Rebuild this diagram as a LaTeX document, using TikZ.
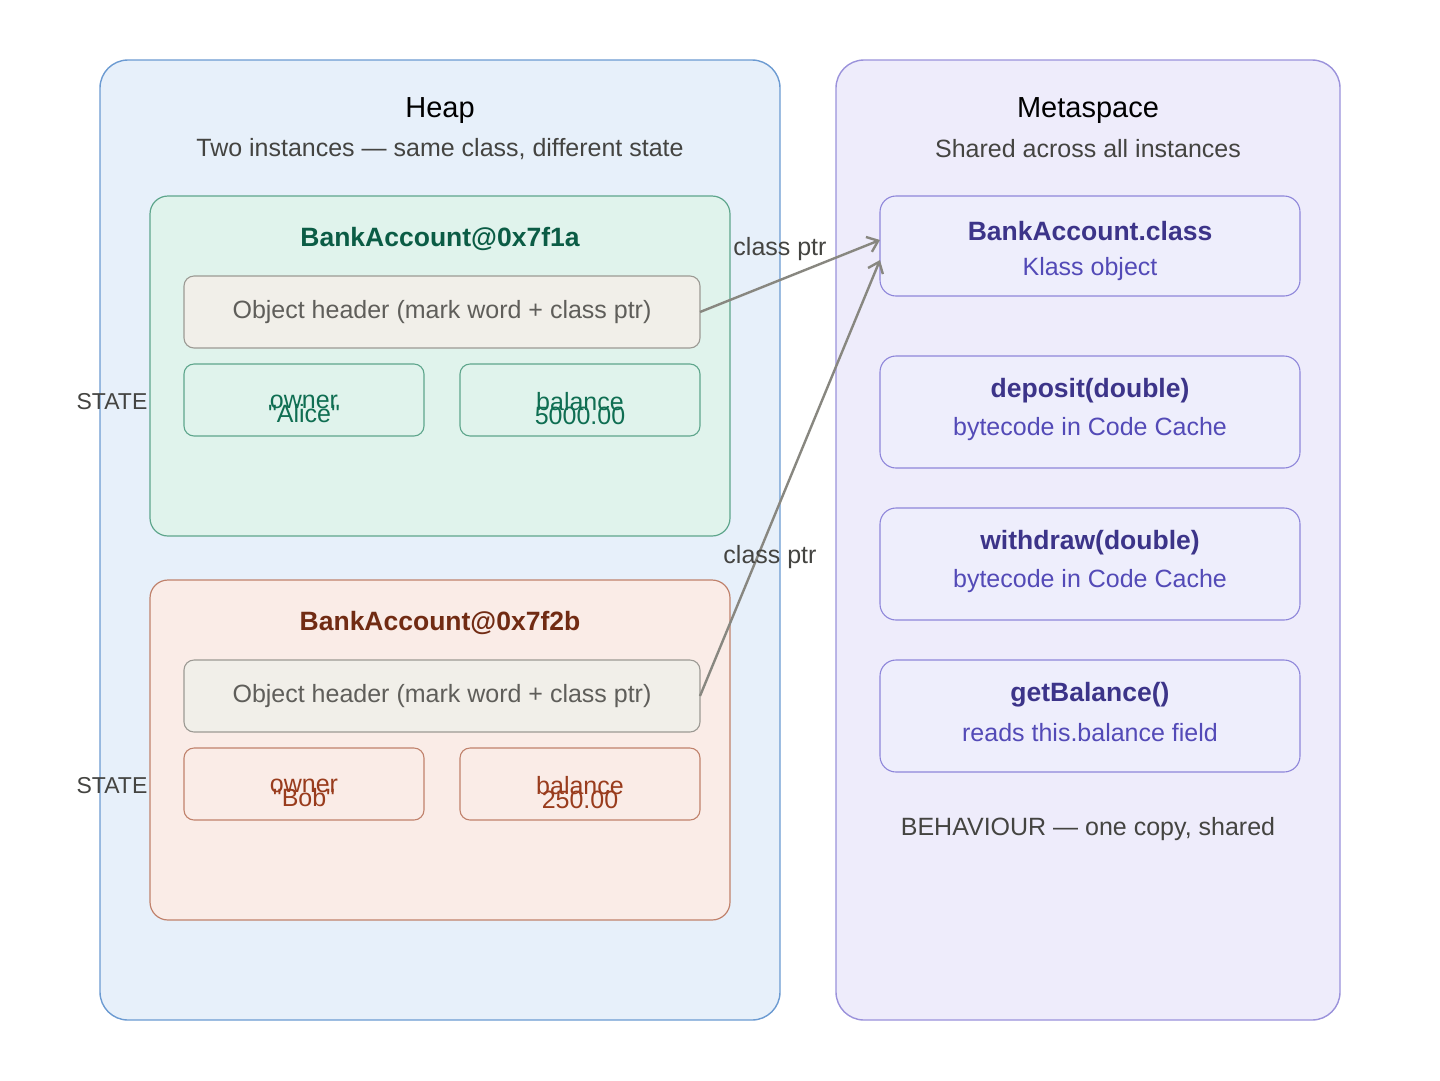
\documentclass[tikz,border=0pt]{standalone}
\usepackage{fontspec}
\setmainfont{Liberation Sans}[Ligatures=TeXOff]
\usetikzlibrary{arrows.meta}
\definecolor{heapfill}{HTML}{E7F0FA}
\definecolor{heapdraw}{HTML}{6C9BD2}
\definecolor{metafill}{HTML}{EEECFB}
\definecolor{metadraw}{HTML}{9B92DB}
\definecolor{gfill}{HTML}{E0F3EC}
\definecolor{gdraw}{HTML}{5EA68C}
\definecolor{gtitle}{HTML}{0B5C45}
\definecolor{gtext}{HTML}{0F6E52}
\definecolor{rfill}{HTML}{FAECE7}
\definecolor{rdraw}{HTML}{C0826C}
\definecolor{rtitle}{HTML}{712B13}
\definecolor{rtext}{HTML}{993C1D}
\definecolor{hfill}{HTML}{F1EFE9}
\definecolor{hdraw}{HTML}{9C9A94}
\definecolor{htext}{HTML}{5F5E5A}
\definecolor{mbfill}{HTML}{EEEEFC}
\definecolor{mbdraw}{HTML}{8E86DA}
\definecolor{mtitle}{HTML}{3C3489}
\definecolor{msub}{HTML}{534AB7}
\definecolor{lbl}{HTML}{444441}
\definecolor{arr}{HTML}{888780}
\newcommand{\tightlns}{\lineskiplimit=-100pt\relax\lineskip=0pt\relax}
\begin{document}
\begin{tikzpicture}[x=1pt,y=-1pt,
  box/.style={rectangle,inner sep=0pt,outer sep=0pt},
  region/.style={box,rounded corners=28pt,line width=1.4pt},
  objbox/.style={box,rounded corners=18pt,line width=1.2pt},
  fieldbox/.style={box,rounded corners=10pt,line width=1.1pt,minimum width=240pt,minimum height=72pt},
  hdrbox/.style={box,rounded corners=10pt,line width=1.1pt,fill=hfill,draw=hdraw,minimum width=516pt,minimum height=72pt,text=htext,font=\fontsize{25}{29}\selectfont},
  methbox/.style={box,rounded corners=16pt,line width=1.1pt,fill=mbfill,draw=mbdraw,minimum width=420pt},
  bigtitle/.style={font=\fontsize{29}{33}\selectfont,text=black},
  subtitle/.style={font=\fontsize{25}{29}\selectfont,text=lbl},
  statelbl/.style={font=\fontsize{23}{27}\selectfont,text=lbl},
  objtitle/.style={font=\bfseries\fontsize{26.5}{30}\selectfont},
  fieldtxt/.style={font=\fontsize{25}{14}\selectfont\tightlns,align=center},
  mtitlestyle/.style={font=\bfseries\fontsize{26.5}{30}\selectfont,text=mtitle},
  msubstyle/.style={font=\fontsize{25}{29}\selectfont,text=msub},
  ptr/.style={draw=arr,line width=2.4pt,-{Straight Barb[length=10pt,width=16pt,line width=2.4pt]}},
  ptrlbl/.style={font=\fontsize{25}{29}\selectfont,text=lbl}
]
\useasboundingbox[fill=white] (0,0) rectangle (1440,1080);

% regions
\node[region,fill=heapfill,draw=heapdraw,minimum width=680pt,minimum height=960pt] (heap) at (440,540) {};
\node[region,fill=metafill,draw=metadraw,minimum width=504pt,minimum height=960pt] (meta) at (1088,540) {};
\node[bigtitle] (heapT) at (440,111) {Heap};
\node[subtitle] (heapS) at (440,149) {Two instances — same class, different state};
\node[bigtitle] (metaT) at (1088,111) {Metaspace};
\node[subtitle] (metaS) at (1088,149) {Shared across all instances};

% object 1
\node[objbox,fill=gfill,draw=gdraw,minimum width=580pt,minimum height=340pt] (obj1) at (440,366) {};
\node[objbox,text=gtitle,objtitle] (obj1T) at (440,239) {BankAccount@0x7f1a};
\node[hdrbox] (hdr1) at (442,312) {Object header (mark word + class ptr)};
\node[fieldbox,fill=gfill,draw=gdraw] (own1) at (304,400) {};
\node[fieldbox,fill=gfill,draw=gdraw] (bal1) at (580,400) {};
\node[fieldtxt,text=gtext] (own1T) at (304,409) {owner\\"Alice"};
\node[fieldtxt,text=gtext] (bal1T) at (580,409) {balance\\5000.00};
\node[statelbl] (state1) at (112,402) {STATE};

% object 2
\node[objbox,fill=rfill,draw=rdraw,minimum width=580pt,minimum height=340pt] (obj2) at (440,750) {};
\node[objbox,text=rtitle,objtitle] (obj2T) at (440,623) {BankAccount@0x7f2b};
\node[hdrbox] (hdr2) at (442,696) {Object header (mark word + class ptr)};
\node[fieldbox,fill=rfill,draw=rdraw] (own2) at (304,784) {};
\node[fieldbox,fill=rfill,draw=rdraw] (bal2) at (580,784) {};
\node[fieldtxt,text=rtext] (own2T) at (304,793) {owner\\"Bob"};
\node[fieldtxt,text=rtext] (bal2T) at (580,793) {balance\\250.00};
\node[statelbl] (state2) at (112,786) {STATE};

% metaspace boxes
\node[methbox,minimum height=100pt] (cls) at (1090,246) {};
\node[mtitlestyle] (clsT) at (1090,231) {BankAccount.class};
\node[msubstyle] (clsS) at (1090,269) {Klass object};
\node[methbox,minimum height=112pt] (dep) at (1090,412) {};
\node[mtitlestyle] (depT) at (1090,391) {deposit(double)};
\node[msubstyle] (depS) at (1090,429) {bytecode in Code Cache};
\node[methbox,minimum height=112pt] (wd) at (1090,564) {};
\node[mtitlestyle] (wdT) at (1090,543) {withdraw(double)};
\node[msubstyle] (wdS) at (1090,581) {bytecode in Code Cache};
\node[methbox,minimum height=112pt] (gb) at (1090,716) {};
\node[mtitlestyle] (gbT) at (1090,695) {getBalance()};
\node[msubstyle] (gbS) at (1090,733) {reads this.balance field};
\node[subtitle] (beh) at (1088,829) {BEHAVIOUR — one copy, shared};

% pointers
\coordinate (in1) at ([yshift=6pt]cls.west);
\coordinate (in2) at ([yshift=-14pt]cls.west);
\draw[ptr] (hdr1.east) -- (in1);
\draw[ptr] (hdr2.east) -- (in2);
\node[ptrlbl] (p1) at (780,249) {class ptr};
\node[ptrlbl] (p2) at (770,557) {class ptr};
\end{tikzpicture}
\end{document}
